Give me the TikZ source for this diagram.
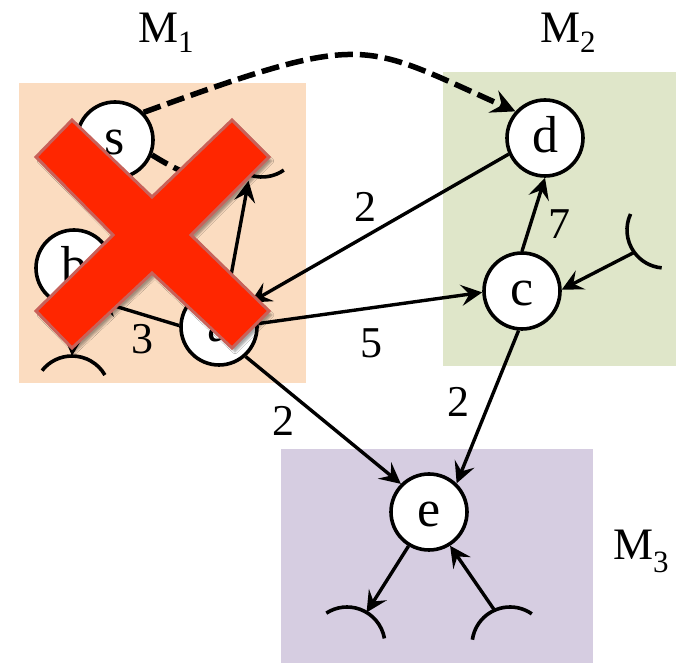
\documentclass[tikz,border=0pt]{standalone}
\usepackage{fontspec}
\setmainfont{Liberation Serif}
\usetikzlibrary{arrows.meta,shadows.blur}
\definecolor{mone}{HTML}{FBDCC0}
\definecolor{mtwo}{HTML}{DFE6C9}
\definecolor{mthree}{HTML}{D6CDE1}
\definecolor{xred}{HTML}{FF2600}
\definecolor{xedge}{HTML}{C8625A}
\begin{document}
\begin{tikzpicture}[x=1pt,y=1pt,
  vert/.style={circle,draw=black,line width=3.6pt,fill=white,minimum size=76pt,inner sep=0pt,
    text height=30pt,text depth=0pt,font=\fontsize{52}{52}\selectfont},
  ghost/.style={circle,minimum size=76pt,inner sep=0pt,outer sep=0pt},
  arcline/.style={line width=3.6pt},
  edge/.style={line width=3.4pt,-{Stealth[length=21pt,width=21pt,inset=8pt]}},
  dashedge/.style={line width=5.5pt,dash pattern=on 18pt off 7pt},
  wlabel/.style={font=\fontsize{44}{44}\selectfont,inner sep=0pt},
  mlabel/.style={font=\fontsize{45}{45}\selectfont,inner sep=0pt,anchor=base west}
]
\useasboundingbox (0,0) rectangle (683,664);
% module boxes
\fill[mone] (19,281) rectangle (306,581);
\fill[mtwo] (443,298) rectangle (676,592);
\fill[mthree] (281,1) rectangle (593,215);
% module labels
\node[mlabel] (m1) at (138,621) {M\raisebox{-10pt}{\fontsize{31}{31}\selectfont 1}};
\node[mlabel] (m2) at (540,621) {M\raisebox{-10pt}{\fontsize{31}{31}\selectfont 2}};
\node[mlabel] (m3) at (613,104) {M\raisebox{-13pt}{\fontsize{31}{31}\selectfont 3}};
% ghost (partial) vertices
\node[ghost] (g1) at (262,525) {};
\node[ghost] (g2) at (72,270) {};
\node[ghost] (g3) at (665,434) {};
\node[ghost] (g4) at (347,19) {};
\node[ghost] (g5) at (510,19) {};
% vertices
\node[vert] (s) at (115,524) {s};
\node[vert] (b) at (74,396) {b};
\node[vert] (a) at (219,337) {a};
\node[vert] (d) at (545,526) {d};
\node[vert] (c) at (522,373) {c};
\node[vert] (e) at (429,152) {e};
% partial arcs
\draw[arcline] (g1.195) arc[start angle=195,end angle=305,radius=38];
\draw[arcline] (g2.30) arc[start angle=30,end angle=142,radius=38];
\draw[arcline] (g3.155) arc[start angle=155,end angle=265,radius=38];
\draw[arcline] (g4.10) arc[start angle=10,end angle=123,radius=38];
\draw[arcline] (g5.55) arc[start angle=55,end angle=172,radius=38];
% edges
\draw[dashedge,-{Stealth[length=24pt,width=24pt,inset=9pt]}] (s.44) .. controls +(20:240) and +(156:170) .. (d.138);
\draw[dashedge] (s.-22) .. controls +(-32:70) and +(215:20) .. (g1.220);
\draw[edge] (d.204) -- (a.38);
\draw[edge] (a.5) -- (c.182);
\draw[edge] (c.90) -- (d.270);
\draw[edge] (c.265) -- (e.46);
\draw[edge] (a.-48) -- (e.135);
\draw[edge] (a.178) -- (b.-55);
\draw[edge] (b.-88) -- (g2.90);
\draw[edge,shorten >=6pt] (a.76) -- (g1.251);
\draw[edge] (g3.216) -- (c.2);
\draw[edge] (e.239) -- (g4.59);
\draw[edge] (g5.114) -- (e.-58);
% edge weights
\node[wlabel] (w1) at (365,457) {2};
\node[wlabel] (w2) at (371,321) {5};
\node[wlabel] (w3) at (142,325) {3};
\node[wlabel] (w4) at (559,440) {7};
\node[wlabel] (w5) at (458,262) {2};
\node[wlabel] (w6) at (283,243) {2};
% red cross
\draw[line width=3pt,draw=xedge,fill=xred,line join=miter,
  blur shadow={shadow xshift=3pt,shadow yshift=-4pt,shadow blur steps=6,shadow opacity=35}]
  (36,507) -- (72,544) -- (152,467) -- (232,544) -- (269,507) -- (191,429)
  -- (269,353) -- (232,316) -- (152,391) -- (72,316) -- (36,353) -- (113,429) -- cycle;
\end{tikzpicture}
\end{document}
